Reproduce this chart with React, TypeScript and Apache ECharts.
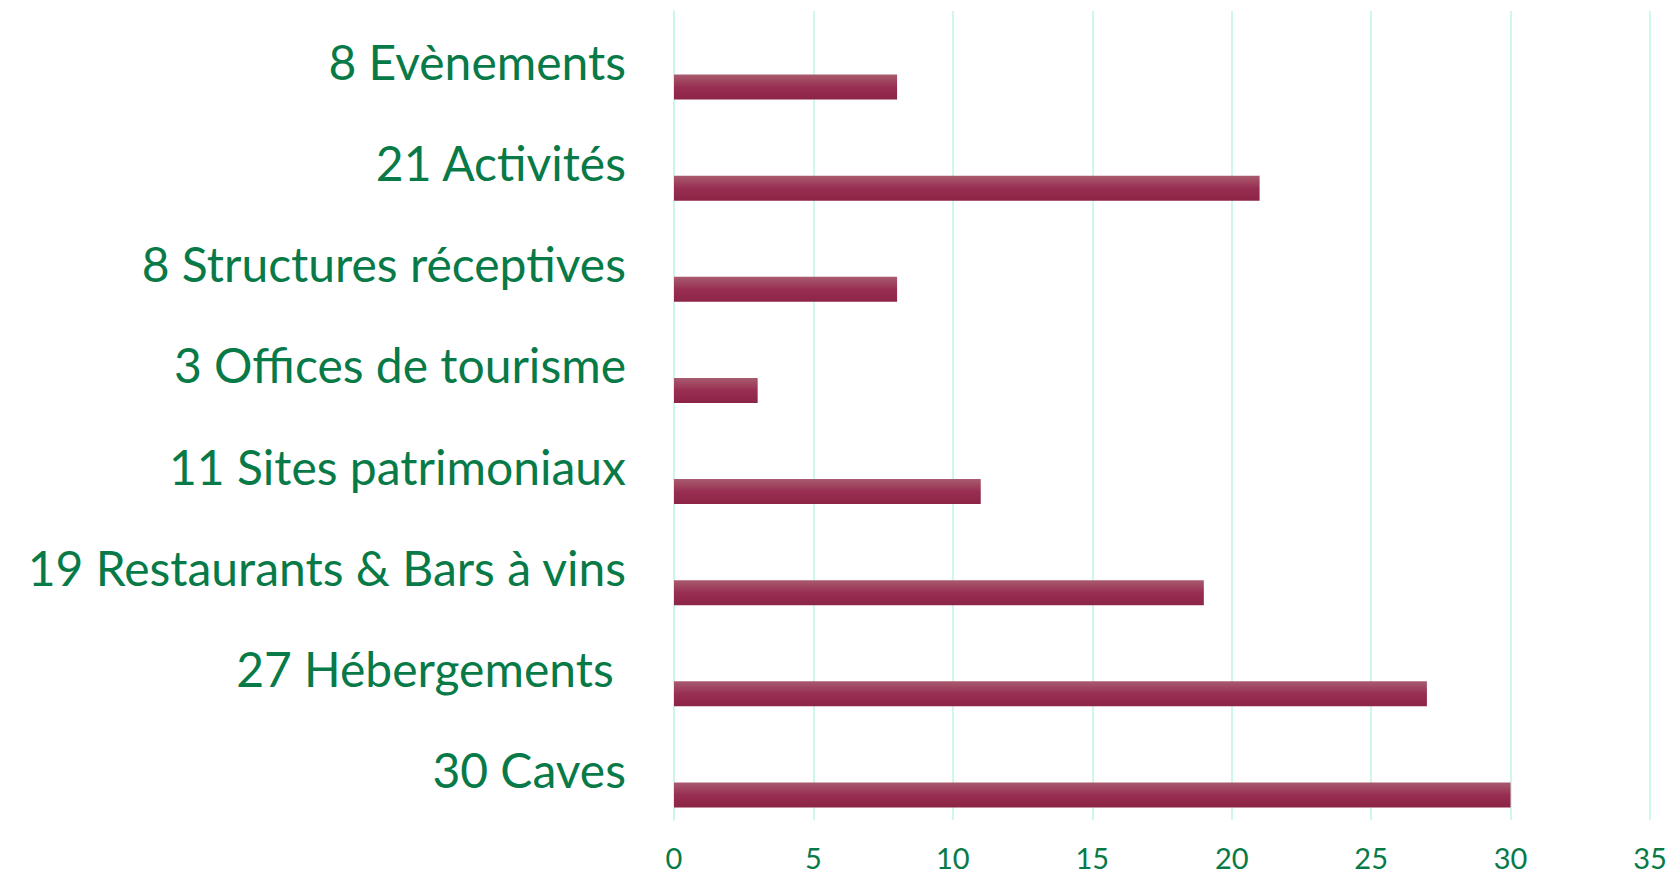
import React, { useEffect, useRef } from "react";
import * as echarts from "echarts";

const categories = [
  "8 Evènements",
  "21 Activités",
  "8 Structures réceptives",
  "3 Offices de tourisme",
  "11 Sites patrimoniaux",
  "19 Restaurants & Bars à vins",
  "27 Hébergements ",
  "30 Caves",
];
const values = [8, 21, 8, 3, 11, 19, 27, 30];
const emptyValues = categories.map(() => "-");
const xTicks = { min: 0, max: 35, interval: 5 };

const GREEN = "#087a48";

export default function App() {
  const ref = useRef<HTMLDivElement>(null);
  useEffect(() => {
    if (!ref.current) return;
    const chart = echarts.init(ref.current, undefined, { renderer: "svg" });
    chart.setOption({
      animation: false,
      backgroundColor: "#ffffff",
      grid: { left: 674, right: 20, top: 11, bottom: 54, containLabel: false },
      xAxis: {
        type: "value",
        min: xTicks.min,
        max: xTicks.max,
        interval: xTicks.interval,
        axisLine: { show: false },
        axisTick: { show: false },
        splitLine: { show: true, lineStyle: { color: "#c9f8e6", width: 1.8 } },
        axisLabel: {
          color: GREEN,
          fontFamily: "Lato",
          fontSize: 29,
          margin: 23,
        },
      },
      yAxis: {
        type: "category",
        inverse: true,
        data: categories,
        axisLine: { show: true, lineStyle: { color: "#c9f8e6", width: 1.8 } },
        axisTick: { show: false },
        splitLine: { show: false },
        axisLabel: {
          color: GREEN,
          fontFamily: "Lato",
          fontSize: 48,
          margin: 48,
          align: "right",
        },
      },
      series: [
        {
          type: "bar",
          data: emptyValues,
          barWidth: 25,
          barGap: "104%",
          silent: true,
        },
        {
          type: "bar",
          data: values,
          barWidth: 25,
          barGap: "104%",
          itemStyle: {
            color: new echarts.graphic.LinearGradient(0, 0, 0, 1, [
              { offset: 0, color: "#a85b6f" },
              { offset: 0.5, color: "#982f52" },
              { offset: 1, color: "#8c2446" },
            ]),
          },
        },
      ],
    });
    return () => chart.dispose();
  }, []);
  return (
    <div
      ref={ref}
      style={{ position: "fixed", left: 0, top: 0, width: 1670, height: 874 }}
    />
  );
}
